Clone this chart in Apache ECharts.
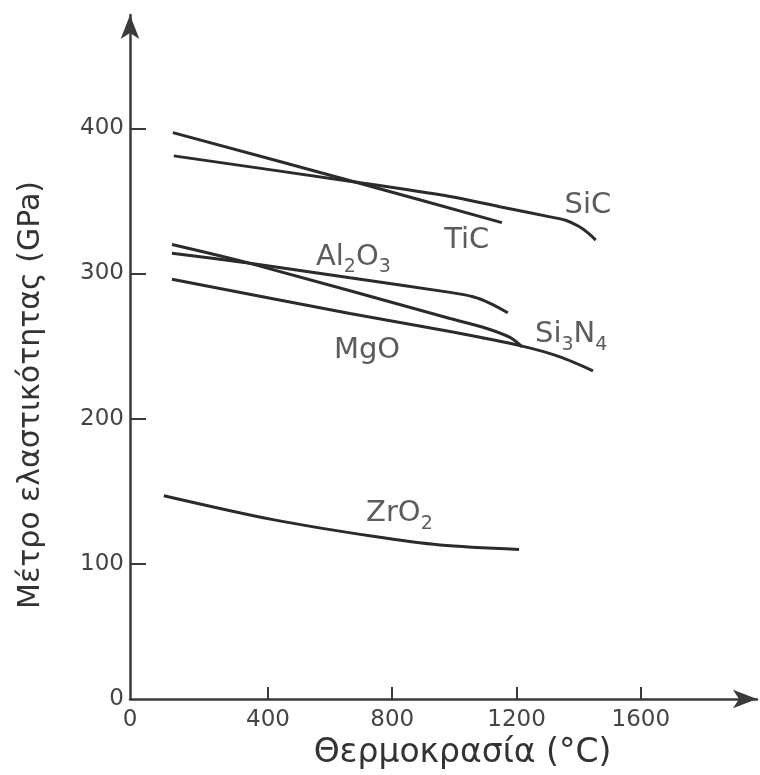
<!DOCTYPE html>
<html>
<head>
<meta charset="utf-8">
<script src="https://cdn.jsdelivr.net/npm/echarts@6/dist/echarts.min.js"></script>
<style>
html,body{margin:0;padding:0;background:#fff;}
#chart{width:760px;height:775px;}
</style>
</head>
<body>
<div id="chart"></div>
<script>
// ---- data (temperature °C, elastic modulus GPa) ----
const SiC   = [[97,381],[680,363],[986,353],[1146,346],[1308,339],[1360,336.5],[1400,332.5],[1430,328],[1455,323]];
const TiC   = [[94,397],[680,363],[1153,335]];
const Al2O3 = [[91,314],[342,307],[664,297],[986,287],[1060,284],[1115,279.5],[1172,273]];
const Si3N4 = [[91,320],[342,307],[986,269],[1092,263],[1179,256],[1218,249.5]];
const MgO   = [[91,296],[664,272.5],[986,260],[1218,250],[1340,242.6],[1446,233]];
const ZrO2  = [[65,147],[416,130.5],[738,119],[954,113],[1208,110]];

const seriesNames = ['SiC','TiC','Al2O3','Si3N4','MgO','ZrO2'];
// label text as rich-text fragments: b = normal, s = subscript
const labelTexts = {
  'SiC':   '{b|SiC}',
  'TiC':   '{b|TiC}',
  'Al2O3': '{b|Al}{s|2}{b|O}{s|3}',
  'Si3N4': '{b|Si}{s|3}{b|N}{s|4}',
  'MgO':   '{b|MgO}',
  'ZrO2':  '{b|ZrO}{s|2}'
};
const labelPoints = [
  {name:'SiC',   value:[1430,346.6]},
  {name:'TiC',   value:[1040,322.5]},
  {name:'Al2O3', value:[675,311]},
  {name:'Si3N4', value:[1376,257.8]},
  {name:'MgO',   value:[719,247]},
  {name:'ZrO2',  value:[823,134.6]}
];

const xTicks = [400,800,1200,1600];
const yTicks = [100,200,300,400];
const xMin = -44, xMax = 1974;
const yMin = 7, yMax = 478;
const originLabel = '0';

const xTitle = 'Θερμοκρασία (°C)';
const yTitle = 'Μέτρο ελαστικότητας (GPa)';

const FONT = 'DejaVu Sans';
const lineColor = '#2b2b2b';

const chart = echarts.init(document.getElementById('chart'), null, {renderer:'canvas'});

const curves = [SiC, TiC, Al2O3, Si3N4, MgO, ZrO2];
const series = curves.map((d, i) => ({
  name: seriesNames[i],
  type: 'line',
  data: d,
  showSymbol: false,
  symbol: 'none',
  smooth: 0.3,
  lineStyle: {color: lineColor, width: 3},
  silent: true,
  z: 3
}));
series.push({
  type: 'scatter',
  data: labelPoints,
  symbolSize: 1,
  itemStyle: {color: 'rgba(0,0,0,0)'},
  label: {
    show: true,
    position: 'inside',
    formatter: p => labelTexts[p.name],
    rich: {
      b: {fontFamily: FONT, fontSize: 29, color: '#333'},
      s: {fontFamily: FONT, fontSize: 19, color: '#333', padding: [20,0,0,0]}
    }
  },
  silent: true,
  z: 5
});

chart.setOption({
  animation: false,
  backgroundColor: '#fff',
  grid: {left: 130, right: 3, top: 15, bottom: 76, containLabel: false},
  xAxis: {
    type: 'value',
    min: xMin, max: xMax,
    axisLine: {show: true, onZero: false, symbol: ['none','arrow'], symbolSize: [14, 24],
               lineStyle: {color: '#3a3a3a', width: 2.5}},
    axisTick: {show: true, inside: true, length: 12, customValues: xTicks,
               lineStyle: {color: '#3a3a3a', width: 2}},
    axisLabel: {show: true, customValues: [xMin].concat(xTicks),
                formatter: v => (v === xMin ? originLabel : String(v)),
                fontFamily: FONT, fontSize: 23, color: '#444', margin: 10},
    splitLine: {show: false},
    name: xTitle,
    nameLocation: 'middle',
    nameGap: 30,
    nameTextStyle: {fontFamily: FONT, fontSize: 33, color: '#333', padding: [0,0,0,38]}
  },
  yAxis: {
    type: 'value',
    min: yMin, max: yMax,
    axisLine: {show: true, onZero: false, symbol: ['none','arrow'], symbolSize: [14, 24],
               lineStyle: {color: '#3a3a3a', width: 2.5}},
    axisTick: {show: true, inside: true, length: 16, customValues: yTicks,
               lineStyle: {color: '#3a3a3a', width: 2}},
    axisLabel: {show: true, customValues: [yMin].concat(yTicks),
                formatter: v => (v === yMin ? originLabel : String(v)),
                fontFamily: FONT, fontSize: 23, color: '#444', margin: 6},
    splitLine: {show: false},
    name: yTitle,
    nameLocation: 'middle',
    nameGap: 84,
    nameTextStyle: {fontFamily: FONT, fontSize: 30, color: '#333', padding: [0,76,0,0]}
  },
  series: series
});
</script>
</body>
</html>
